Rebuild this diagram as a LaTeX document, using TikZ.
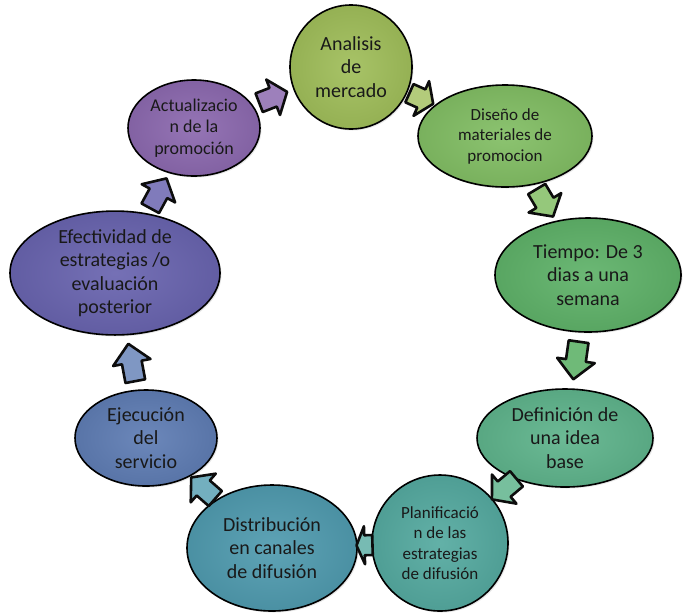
\documentclass[tikz,border=0pt]{standalone}
\usepackage{fontspec}
\setmainfont{Carlito}
\usetikzlibrary{shapes.geometric,shadows}
\definecolor{cA}{HTML}{A0BE5A}
\definecolor{cB}{HTML}{82BE64}
\definecolor{cC}{HTML}{5FB269}
\definecolor{cD}{HTML}{5FB48C}
\definecolor{cE}{HTML}{55AAA0}
\definecolor{cF}{HTML}{509BAF}
\definecolor{cG}{HTML}{5F7DB4}
\definecolor{cH}{HTML}{6964AF}
\definecolor{cI}{HTML}{8C69AF}
\begin{document}
\begin{tikzpicture}[x=1pt,y=-1pt,
  bubble/.style={ellipse, draw=black, line width=1.6pt, inner sep=0pt, align=center,
    text=black!90, inner color=#1!92!white, outer color=#1!93!black,
    drop shadow={opacity=0.2, shadow xshift=1.5pt, shadow yshift=-1.5pt}},
  bigtext/.style={font=\fontsize{20}{23.5}\selectfont},
  midtext/.style={font=\fontsize{18}{21.5}\selectfont},
  smalltext/.style={font=\fontsize{17}{20.5}\selectfont}
]
\tikzset{pics/blockarrow/.style 2 args={code={
    \filldraw[fill=#1, draw=black!95, line width=2.6pt, line join=round] (-#2,-10) -- (0,-10) -- (0,-19) -- (#2,0) -- (0,19) -- (0,10) -- (-#2,10) -- cycle;}}}
\useasboundingbox (0,0) rectangle (684,614);

\node[bubble=cA, bigtext, minimum width=122pt, minimum height=124pt] (ana) at (351,67) {Analisis\\de\\mercado};
\node[bubble=cB, smalltext, minimum width=174pt, minimum height=102pt] (dis) at (505,136) {Diseño de\\materiales de\\promocion};
\node[bubble=cC, bigtext, minimum width=186pt, minimum height=114pt] (tie) at (588,275) {Tiempo: De 3\\dias a una\\semana};
\node[bubble=cD, bigtext, minimum width=176pt, minimum height=98pt] (def) at (565,438) {Definición de\\una idea\\base};
\node[bubble=cE, smalltext, minimum width=136pt, minimum height=136pt] (pla) at (440,543) {Planificació\\n de las\\estrategias\\de difusión};
\node[bubble=cF, bigtext, minimum width=170pt, minimum height=126pt] (dif) at (272,548) {Distribución\\en canales\\de difusión};
\node[bubble=cG, bigtext, minimum width=142pt, minimum height=96pt] (eje) at (146,438) {Ejecución\\del\\servicio};
\node[bubble=cH, bigtext, minimum width=210pt, minimum height=110pt] (efe) at (115,273) {Efectividad de\\estrategias /o\\evaluación\\posterior};
\node[bubble=cI, midtext, minimum width=132pt, minimum height=96pt] (act) at (194,128) {Actualizacio\\n de la\\promoción};

\path (act) -- (ana) pic[pos=.5, sloped, allow upside down] {blockarrow={cI!85!white}{15}};
\path (ana) -- (dis) pic[pos=.5, sloped, allow upside down] {blockarrow={cA!80!white}{13}};
\path (dis) -- (tie) pic[pos=.5, sloped, allow upside down] {blockarrow={cB!85!white}{16}};
\path (tie) -- (def) pic[pos=.5, sloped, allow upside down] {blockarrow={cC!90!white}{19}};
\path (def) -- (pla) pic[pos=.5, sloped, allow upside down] {blockarrow={cD!85!white}{16}};
\path (pla) -- (dif) pic[pos=.5, sloped, allow upside down] {blockarrow={cE!80!white}{8}};
\path (dif) -- (eje) pic[pos=.5, sloped, allow upside down] {blockarrow={cF!80!white}{16}};
\path (eje) -- (efe) pic[pos=.5, sloped, allow upside down] {blockarrow={cG!80!white}{19}};
\path (efe) -- (act) pic[pos=.5, sloped, allow upside down] {blockarrow={cH!85!white}{17}};
\end{tikzpicture}
\end{document}
